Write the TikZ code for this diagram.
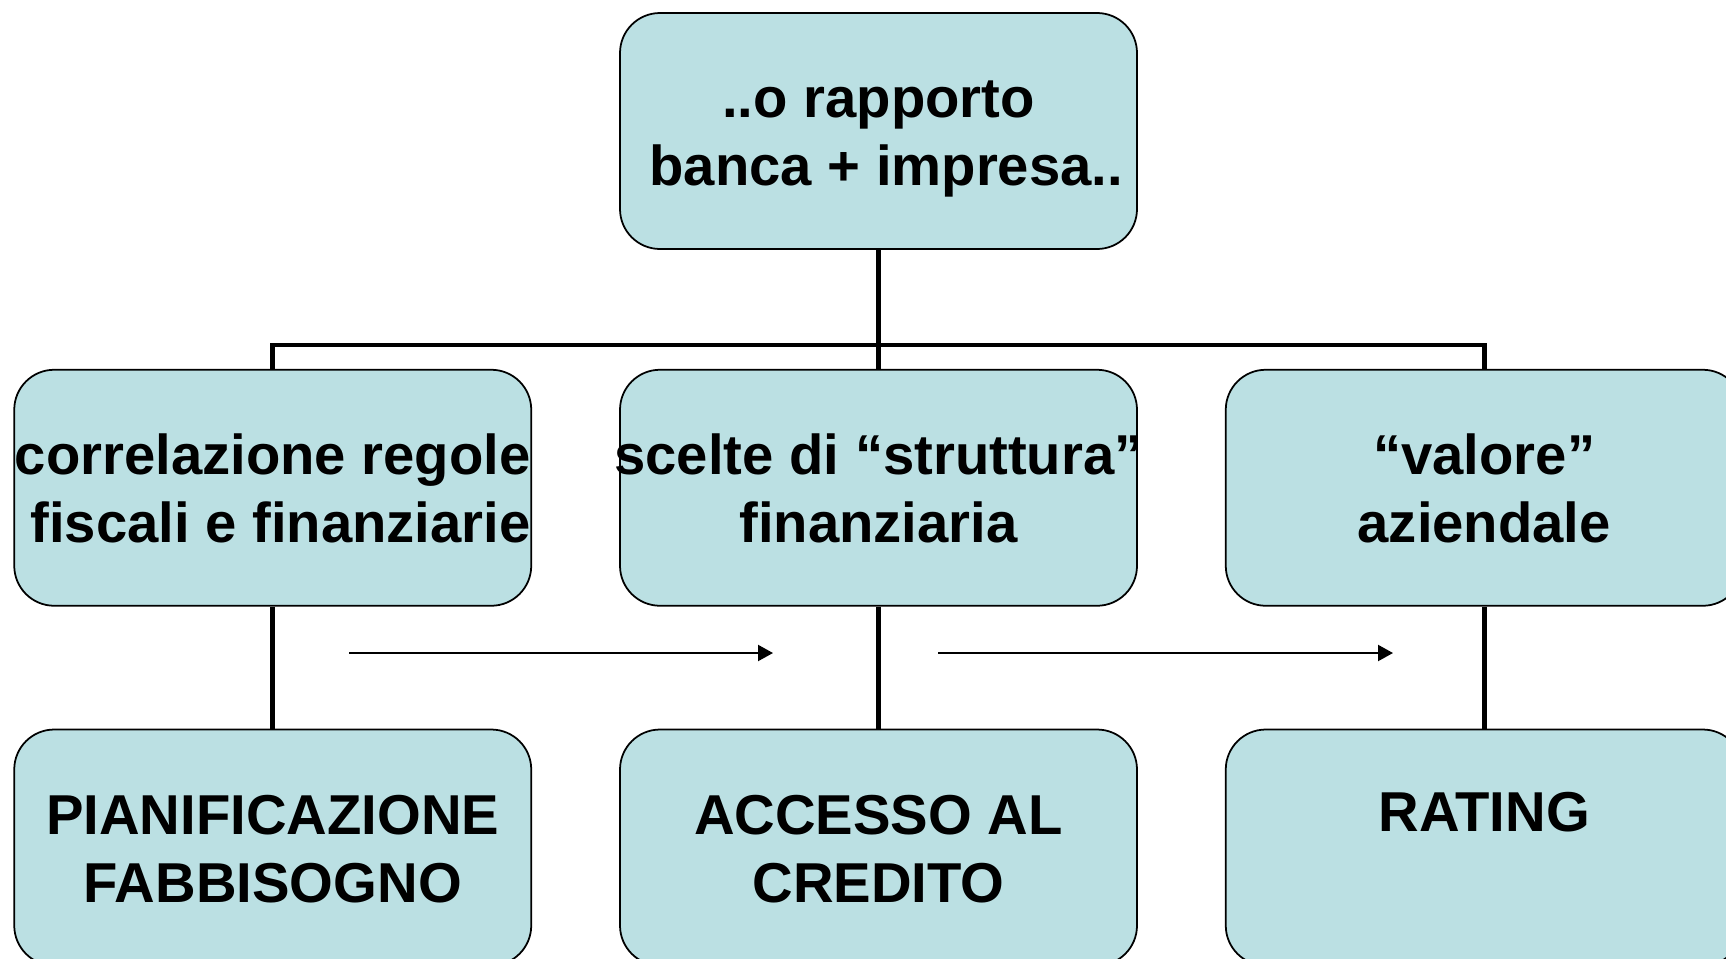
\documentclass[tikz,border=0pt]{standalone}
\usepackage{fontspec}
\setmainfont{Liberation Sans}
\usepackage{tikz}
\usetikzlibrary{positioning}
\usetikzlibrary{arrows.meta}

\definecolor{boxblue}{RGB}{187,224,227}

\tikzset{
	topic/.style={
		draw,
		line width=0.5pt,
		fill=boxblue,
		rounded corners=0.4cm,
		minimum width=5.17cm,
		minimum height=2.36cm,
		inner xsep=0pt,
		text height=32pt,
		text depth=1pt,
		align=center,
		font=\fontsize{16}{19.3}\selectfont\bfseries
	},
	branch/.style={line width=1.4pt},
	flow/.style={line width=0.6pt, -{Triangle[length=0.15cm, width=0.16cm]}}
}

\begin{document}
\begin{tikzpicture}

\useasboundingbox (0,0) rectangle (17.26,-9.58);

\node[topic] (rapporto) at (8.785,-1.31) {..o rapporto\\\hspace*{0.278em}banca + impresa..};

\node[
	topic,
	inner xsep=-1.5mm,
	below=1.19cm of rapporto
] (struttura) {scelte di “struttura”\\finanziaria};

\node[
	topic,
	below left=1.19cm and 0.87cm of rapporto
] (correlazione) {correlazione regole\\\hspace*{0.278em}fiscali e finanziarie};

\node[
	topic,
	below right=1.19cm and 0.87cm of rapporto
] (valore) {“valore”\\aziendale};

\node[
	topic,
	below=1.22cm of correlazione
] (pianificazione) {PIANIFICAZIONE\\FABBISOGNO};

\node[
	topic,
	below=1.22cm of struttura
] (accesso) {ACCESSO AL\\CREDITO};

\node[
	topic,
	text height=12pt,
	text depth=21pt,
	below=1.22cm of valore
] (rating) {RATING};

% tree lines
\coordinate (bar) at (0,-3.45);
\draw[branch] (rapporto.south) -- (struttura.north);
\draw[branch] (correlazione.north) -- (correlazione.north |- bar)
	-- (valore.north |- bar) -- (valore.north);

\draw[branch] (correlazione.south) -- (pianificazione.north);
\draw[branch] (struttura.south) -- (accesso.north);
\draw[branch] (valore.south) -- (rating.north);

% flow arrows
\coordinate (a1) at (3.49,-6.53);
\coordinate (a2) at (7.73,-6.53);
\coordinate (b1) at (9.38,-6.53);
\coordinate (b2) at (13.93,-6.53);
\draw[flow] (a1) -- (a2);
\draw[flow] (b1) -- (b2);

\end{tikzpicture}
\end{document}
